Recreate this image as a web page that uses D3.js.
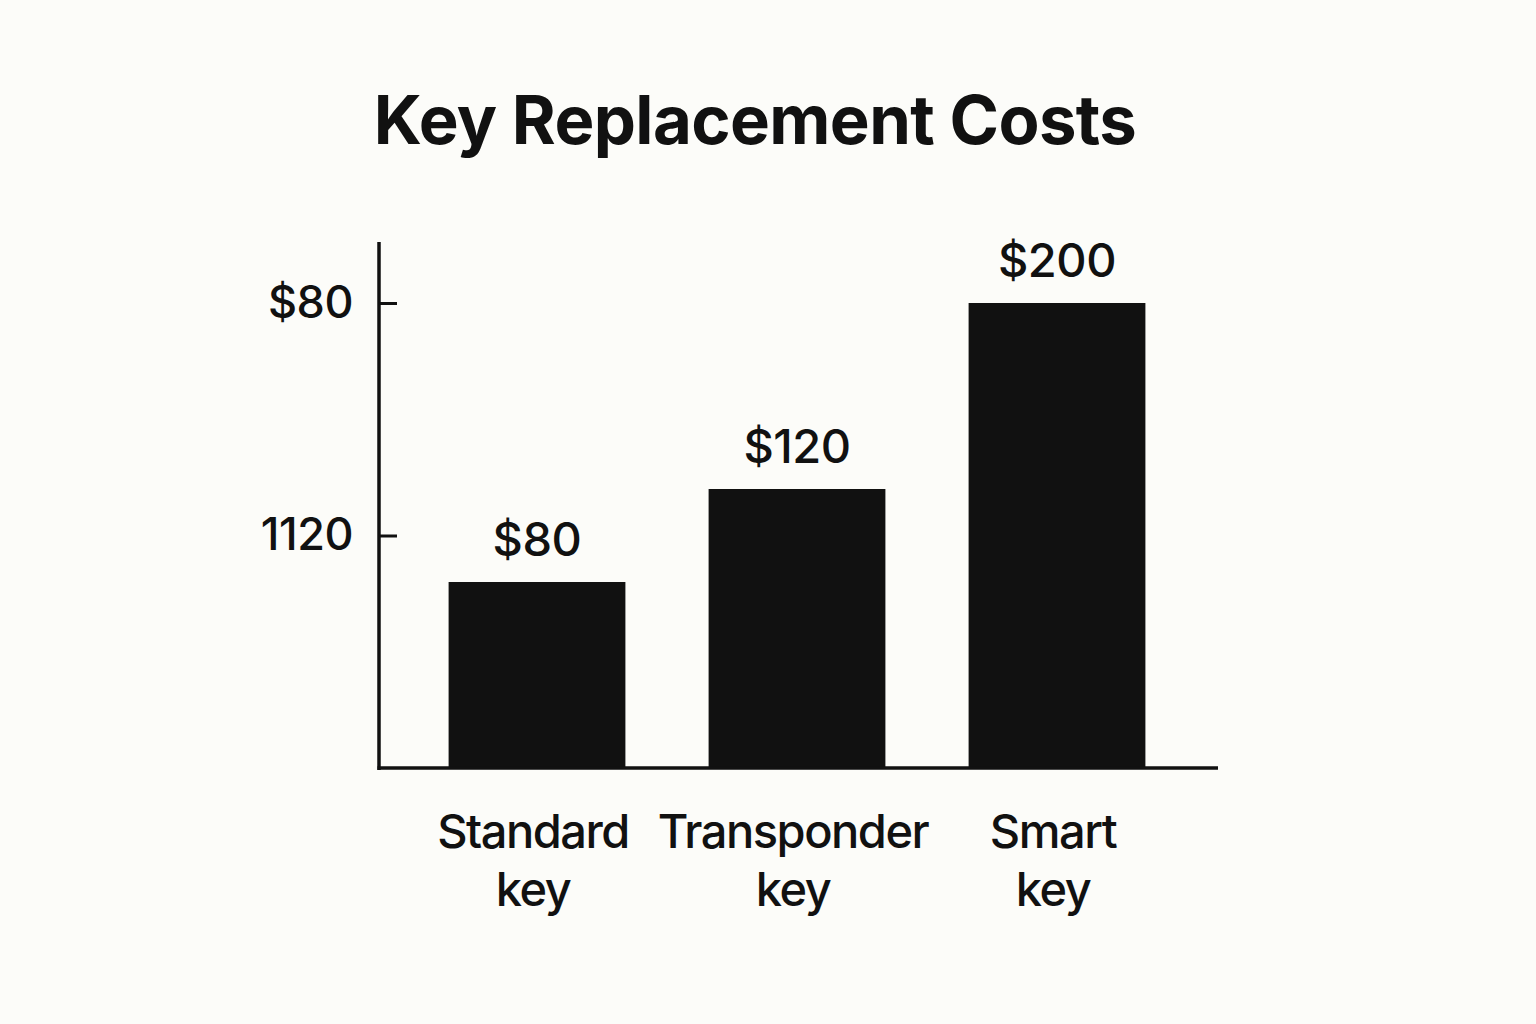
<!DOCTYPE html>
<html>
<head>
<meta charset="utf-8">
<script src="https://cdn.jsdelivr.net/npm/d3@7"></script>
<style>
  body { margin: 0; background: #fcfcf9; }
  svg { display: block; font-family: Inter, "Liberation Sans", sans-serif; }
</style>
</head>
<body>
<script>
const categories = [["Standard", "key"], ["Transponder", "key"], ["Smart", "key"]];
const costs = [80, 120, 200];
const tickValues = [100, 200];
const tickLabels = ["1120", "$80"];

const WIDTH = 1536;
const HEIGHT = 1024;
const AXIS_X = 379;
const BASE_Y = 768;

var svg = d3.select('body').append('svg')
    .attr('width', WIDTH)
    .attr('height', HEIGHT);

var xScale = d3.scaleBand()
    .domain(d3.range(categories.length))
    .range([407, 1187])
    .paddingInner(0.32)
    .paddingOuter(0.16);

var yScale = d3.scaleLinear()
    .domain([0, 200])
    .range([BASE_Y, 303]);

svg.append('text')
    .attr('x', 755)
    .attr('y', 144)
    .attr('text-anchor', 'middle')
    .attr('font-size', 67)
    .attr('font-weight', 700)
    .attr('letter-spacing', -0.6)
    .attr('fill', '#111')
    .text('Key Replacement Costs');

// bars
svg.selectAll('.bar').data(costs)
    .enter()
    .append('rect')
    .attr('class', 'bar')
    .attr('x', function(d, i) { return xScale(i); })
    .attr('width', xScale.bandwidth())
    .attr('y', function(d) { return yScale(d); })
    .attr('height', function(d) { return BASE_Y - yScale(d); })
    .attr('fill', '#111');

svg.selectAll('.value').data(costs)
    .enter()
    .append('text')
    .attr('class', 'value')
    .attr('x', function(d, i) { return xScale(i) + xScale.bandwidth() / 2; })
    .attr('y', function(d) { return yScale(d) - 26; })
    .attr('text-anchor', 'middle')
    .attr('font-size', 47)
    .attr('font-weight', 500)
    .attr('letter-spacing', -0.5)
    .attr('fill', '#111')
    .text(function(d) { return '$' + d; });

// y axis
var yAxis = d3.axisLeft(yScale)
    .tickValues(tickValues)
    .tickSize(-18)
    .tickPadding(28)
    .tickFormat(function(d, i) { return tickLabels[i]; });

var gy = svg.append('g')
    .attr('transform', 'translate(' + AXIS_X + ',0)')
    .call(yAxis);
gy.select('.domain').remove();
gy.selectAll('.tick line').attr('stroke', '#111').attr('stroke-width', 3);
gy.selectAll('.tick text')
    .attr('font-size', 45)
    .attr('font-weight', 500)
    .attr('letter-spacing', -0.5)
    .attr('font-family', 'Inter, sans-serif')
    .attr('fill', '#111')
    .attr('x', -26);

svg.append('line')
    .attr('x1', AXIS_X).attr('x2', AXIS_X)
    .attr('y1', 242).attr('y2', BASE_Y + 2)
    .attr('stroke', '#111').attr('stroke-width', 3.5);

svg.append('line')
    .attr('x1', AXIS_X - 1.5).attr('x2', 1218)
    .attr('y1', BASE_Y).attr('y2', BASE_Y)
    .attr('stroke', '#111').attr('stroke-width', 3.5);

// category labels
var cat = svg.selectAll('.cat').data(categories)
    .enter()
    .append('text')
    .attr('class', 'cat')
    .attr('text-anchor', 'middle')
    .attr('font-size', 47)
    .attr('font-weight', 500)
    .attr('letter-spacing', -1.5)
    .attr('fill', '#111')
    .attr('transform', function(d, i) {
        return 'translate(' + (xScale(i) + xScale.bandwidth() / 2 - 4) + ',848)';
    });

cat.selectAll('tspan').data(function(d) { return d; })
    .enter()
    .append('tspan')
    .attr('x', 0)
    .attr('y', function(d, i) { return i * 58; })
    .text(function(d) { return d; });
</script>
</body>
</html>
